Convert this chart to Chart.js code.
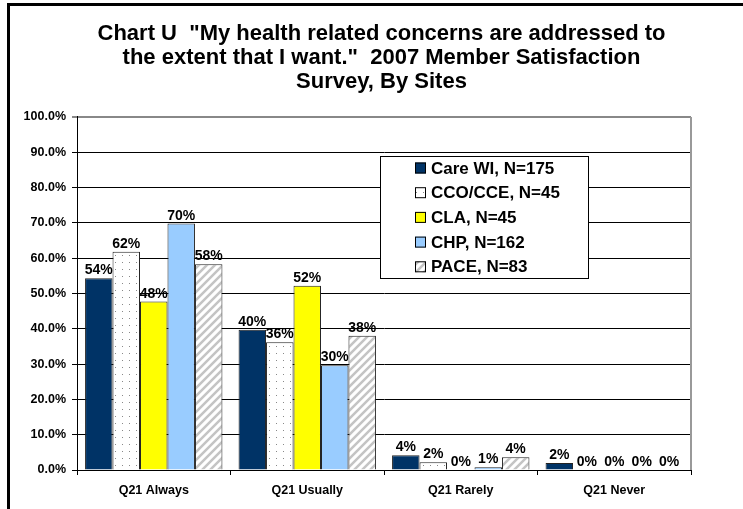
<!DOCTYPE html>
<html>
<head>
<meta charset="utf-8">
<script src="https://cdn.jsdelivr.net/npm/chart.js@4"></script>
<style>
  html, body { margin: 0; padding: 0; background: #fff; }
  #wrap { position: relative; width: 743px; height: 509px; overflow: hidden; }
  #frame { position: absolute; left: 7px; top: 3px; width: 800px; height: 600px;
           border-left: 3px solid #000; border-top: 3px solid #000; }
  canvas { position: absolute; left: 0; top: 0; }
</style>
</head>
<body>
<div id="wrap">
  <div id="frame"></div>
  <canvas id="chart" width="743" height="509"></canvas>
</div>
<script>
const categories = ['Q21 Always', 'Q21 Usually', 'Q21 Rarely', 'Q21 Never'];
const siteNames = ['Care WI, N=175', 'CCO/CCE, N=45', 'CLA, N=45', 'CHP, N=162', 'PACE, N=83'];
const careWI = [54.3, 39.7, 4.2, 2.0];
const ccoCce = [61.8, 36.2, 2.2, 0];
const cla = [47.7, 52.2, 0, 0];
const chp = [69.8, 29.7, 0.8, 0];
const pace = [58.3, 38.0, 3.6, 0];
const yTicks = [0, 10, 20, 30, 40, 50, 60, 70, 80, 90, 100];

// patterns for the white bars
function dotPattern() {
  const c = document.createElement('canvas');
  c.width = 7; c.height = 7;
  const g = c.getContext('2d');
  g.fillStyle = '#fff'; g.fillRect(0, 0, 7, 7);
  g.fillStyle = '#888'; g.fillRect(3, 3, 1, 1);
  return g.createPattern(c, 'repeat');
}
function stripePattern() {
  const c = document.createElement('canvas');
  c.width = 8; c.height = 8;
  const g = c.getContext('2d');
  g.fillStyle = '#fff'; g.fillRect(0, 0, 8, 8);
  g.strokeStyle = '#c4c4c4'; g.lineWidth = 2.5;
  g.beginPath();
  g.moveTo(0, 8); g.lineTo(8, 0);
  g.moveTo(-4, 4); g.lineTo(4, -4);
  g.moveTo(4, 12); g.lineTo(12, 4);
  g.stroke();
  return g.createPattern(c, 'repeat');
}

const fills = ['#003366', dotPattern(), '#ffff00', '#99ccff', stripePattern()];
const seriesValues = [careWI, ccoCce, cla, chp, pace];

// value labels above bars
const valueLabels = {
  id: 'valueLabels',
  afterDatasetsDraw(chart) {
    const ctx = chart.ctx;
    ctx.save();
    ctx.font = 'bold 14px "Liberation Sans", Arial, sans-serif';
    ctx.fillStyle = '#000';
    ctx.textAlign = 'center';
    ctx.textBaseline = 'alphabetic';
    chart.data.datasets.forEach((ds, i) => {
      chart.getDatasetMeta(i).data.forEach((bar, j) => {
        ctx.fillText(Math.round(ds.data[j]) + '%', bar.x, bar.y - 4);
      });
    });
    ctx.restore();
  }
};

// plot frame (right side) and legend box inside the plot
const extras = {
  id: 'extras',
  beforeDatasetsDraw(chart) {
    const a = chart.chartArea, ctx = chart.ctx;
    ctx.save();
    ctx.strokeStyle = '#999';
    ctx.lineWidth = 2;
    ctx.beginPath();
    ctx.moveTo(a.right, a.top);
    ctx.lineTo(a.right, a.bottom);
    ctx.stroke();
    ctx.restore();
  },
  afterDraw(chart) {
    const ctx = chart.ctx;
    const x = 380, y = 156, w = 208, h = 122;
    ctx.save();
    ctx.fillStyle = '#fff';
    ctx.fillRect(x, y, w, h);
    ctx.strokeStyle = '#000';
    ctx.lineWidth = 1;
    ctx.strokeRect(x + 0.5, y + 0.5, w, h);
    ctx.font = 'bold 17px "Liberation Sans", Arial, sans-serif';
    ctx.textBaseline = 'middle';
    chart.data.datasets.forEach((ds, i) => {
      const cy = y + 12 + i * 24.7;
      ctx.fillStyle = ds.backgroundColor;
      ctx.fillRect(415, cy - 5.5, 11, 11);
      ctx.strokeStyle = '#000';
      ctx.strokeRect(415.5, cy - 5, 10, 10);
      ctx.fillStyle = '#000';
      ctx.fillText(ds.label, 431, cy + 1);
    });
    ctx.restore();
  }
};

new Chart(document.getElementById('chart'), {
  type: 'bar',
  data: {
    labels: categories,
    datasets: seriesValues.map((vals, i) => ({
      label: siteNames[i],
      data: vals,
      backgroundColor: fills[i],
      borderColor: '#222',
      borderWidth: 1,
      categoryPercentage: 0.895,
      barPercentage: 1
    }))
  },
  options: {
    responsive: false,
    animation: false,
    events: [],
    layout: { padding: { left: 20, right: 0, top: 0, bottom: 0 } },
    plugins: {
      legend: { display: false },
      tooltip: { enabled: false },
      title: {
        display: true,
        text: ['Chart U  "My health related concerns are addressed to',
               'the extent that I want."  2007 Member Satisfaction',
               'Survey, By Sites'],
        color: '#000',
        font: { family: '"Liberation Sans", Arial, sans-serif', size: 22, weight: 'bold', lineHeight: 1.09 },
        padding: { top: 22, bottom: 23 }
      }
    },
    scales: {
      x: {
        grid: { display: true, drawOnChartArea: false, drawTicks: true, tickLength: 5, color: '#000', offset: true },
        border: { color: '#000', width: 1 },
        ticks: {
          color: '#000', padding: 8,
          font: { family: '"Liberation Sans", Arial, sans-serif', size: 12.5, weight: 'bold' }
        },
        afterFit(scale) { scale.height = 39; }
      },
      y: {
        min: 0, max: 100,
        afterBuildTicks(scale) { scale.ticks = yTicks.map(v => ({ value: v })); },
        grid: {
          color: ctx => ctx.tick && ctx.tick.value === 100 ? '#888' : '#000',
          lineWidth: ctx => ctx.tick && ctx.tick.value === 100 ? 2 : 1,
          tickLength: 5
        },
        border: { color: '#000', width: 1 },
        ticks: {
          color: '#000', padding: 6,
          font: { family: '"Liberation Sans", Arial, sans-serif', size: 12.5, weight: 'bold' },
          callback: v => v.toFixed(1) + '%'
        },
        afterFit(scale) { scale.width = 57; }
      },
      // empty right-hand space, keeps the title centred like the original
      yRight: {
        position: 'right',
        display: true,
        grid: { display: false },
        border: { display: false },
        ticks: { display: false },
        afterFit(scale) { scale.width = 52; }
      }
    }
  },
  plugins: [valueLabels, extras]
});
</script>
</body>
</html>
